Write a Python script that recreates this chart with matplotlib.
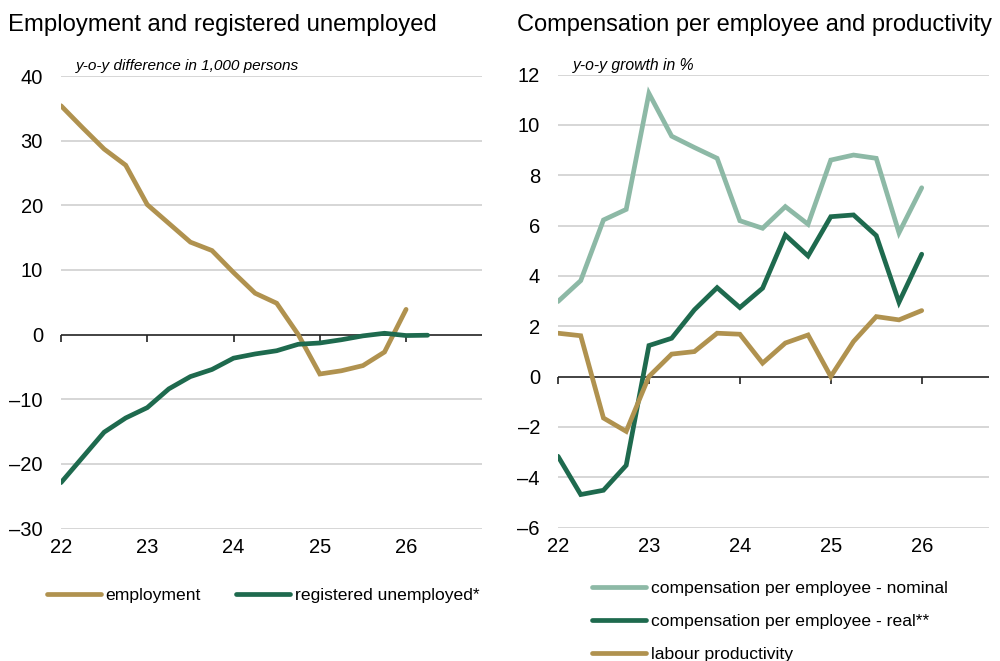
import matplotlib
matplotlib.use("Agg")
import matplotlib.pyplot as plt
import numpy as np

# ---------------- data ----------------
quarters_emp = [22.0, 22.25, 22.5, 22.75, 23.0, 23.25, 23.5, 23.75, 24.0, 24.25,
                24.5, 24.75, 25.0, 25.25, 25.5, 25.75, 26.0]
employment = [35.4, 32.0, 28.7, 26.2, 20.1, 17.2, 14.3, 13.0, 9.6, 6.4,
              4.85, 0.0, -6.1, -5.6, -4.8, -2.7, 3.9]
quarters_unemp = quarters_emp + [26.25]
registered_unemployed = [-22.9, -19.0, -15.1, -12.9, -11.3, -8.4, -6.5, -5.4, -3.65, -3.0,
                         -2.5, -1.5, -1.3, -0.8, -0.2, 0.2, -0.15, -0.1]

quarters_comp = quarters_emp
comp_nominal = [2.98, 3.81, 6.22, 6.64, 11.25, 9.55, 9.1, 8.67, 6.19, 5.89,
                6.75, 6.05, 8.6, 8.8, 8.67, 5.71, 7.5]
comp_real = [-3.17, -4.69, -4.52, -3.53, 1.23, 1.52, 2.65, 3.53, 2.74, 3.51,
             5.62, 4.79, 6.35, 6.42, 5.6, 2.95, 4.86]
productivity = [1.72, 1.62, -1.65, -2.18, 0.0, 0.89, 0.99, 1.72, 1.68, 0.53,
                1.33, 1.65, 0.0, 1.39, 2.38, 2.25, 2.62]

year_ticks = [22, 23, 24, 25, 26]
year_labels = ["22", "23", "24", "25", "26"]
left_yticks = [-30, -20, -10, 0, 10, 20, 30, 40]
right_yticks = [-6, -4, -2, 0, 2, 4, 6, 8, 10, 12]

titles = ["Employment and registered unemployed", "Compensation per employee and productivity"]
subtitles = ["y-o-y difference in 1,000 persons", "y-o-y growth in %"]
legend_left = ["employment", "registered unemployed*"]
legend_right = ["compensation per employee - nominal", "compensation per employee - real**",
                "labour productivity"]

# ---------------- style ----------------
GOLD = "#B0924F"
DARK = "#1E6A4E"
LIGHT = "#8DB9A6"
GRID = "#CFCFCF"
LW = 3.4
FONT = ["Liberation Sans", "DejaVu Sans"]

plt.rcParams['font.family'] = FONT
plt.rcParams['axes.unicode_minus'] = False

W, H = 1000, 661
fig = plt.figure(figsize=(W / 100, H / 100), dpi=100)

def fx(px):
    return px / W

def fy(py):
    return 1 - py / H

ax1 = fig.add_axes([fx(61), fy(528.5), fx(482 - 61), (528.5 - 76) / H])
ax2 = fig.add_axes([fx(558), fy(527.5), fx(989 - 558), (527.5 - 74.5) / H])

def fmt(v):
    return ("–" + str(abs(v))) if v < 0 else str(v)

def style(ax, yticks, ylim, xlim):
    ax.set_xlim(*xlim)
    ax.set_ylim(*ylim)
    for s in ax.spines.values():
        s.set_visible(False)
    ax.set_yticks(yticks)
    ax.set_yticklabels([fmt(v) for v in yticks])
    ax.set_xticks(year_ticks)
    ax.set_xticklabels(year_labels)
    ax.tick_params(axis='y', length=0, pad=13, labelsize=14.5)
    ax.tick_params(axis='x', length=0, pad=7, labelsize=14.5)
    for v in yticks:
        if v == 0:
            continue
        ax.axhline(v, color=GRID, lw=1.2, zorder=0)
    ax.axhline(0, color="#222222", lw=1.2, zorder=1)
    frac = (0 - ylim[0]) / (ylim[1] - ylim[0])
    sec = ax.secondary_xaxis(frac)
    sec.set_xticks(year_ticks)
    sec.set_xticklabels([])
    sec.tick_params(axis='x', direction='out', length=5, width=1.2, color="#222222")
    for s in sec.spines.values():
        s.set_visible(False)

style(ax1, left_yticks, (-30, 40), (22, 26.88))
style(ax2, right_yticks, (-6, 12), (22, 26.74))

ax1.plot(quarters_emp, employment, color=GOLD, lw=LW, solid_capstyle='round',
         solid_joinstyle='miter', label=legend_left[0], zorder=3)
ax1.plot(quarters_unemp, registered_unemployed, color=DARK, lw=LW, solid_capstyle='round',
         solid_joinstyle='miter', label=legend_left[1], zorder=3)

ax2.plot(quarters_comp, comp_nominal, color=LIGHT, lw=LW, solid_capstyle='round',
         solid_joinstyle='miter', label=legend_right[0], zorder=3)
ax2.plot(quarters_comp, comp_real, color=DARK, lw=LW, solid_capstyle='round',
         solid_joinstyle='miter', label=legend_right[1], zorder=3)
ax2.plot(quarters_comp, productivity, color=GOLD, lw=LW, solid_capstyle='round',
         solid_joinstyle='miter', label=legend_right[2], zorder=3)

# titles
fig.text(fx(8), fy(31), titles[0], fontsize=17.2, va='baseline', ha='left')
fig.text(fx(517), fy(31), titles[1], fontsize=17.0, va='baseline', ha='left')
# subtitles
fig.text(fx(76), fy(70), subtitles[0], fontsize=11.1, style='italic', va='baseline', ha='left')
fig.text(fx(573), fy(70), subtitles[1], fontsize=11.3, style='italic', va='baseline', ha='left')

# legends
leg1 = ax1.legend(ncol=2, loc='upper left', bbox_to_anchor=(fx(47), fy(588)),
                  bbox_transform=fig.transFigure, frameon=False, fontsize=12.6,
                  handlelength=3.1, handletextpad=0.25, columnspacing=2.0,
                  borderpad=0, borderaxespad=0)
leg2 = ax2.legend(ncol=1, loc='upper left', bbox_to_anchor=(fx(592), fy(581)),
                  bbox_transform=fig.transFigure, frameon=False, fontsize=12.6,
                  handlelength=3.1, handletextpad=0.25, labelspacing=1.0,
                  borderpad=0, borderaxespad=0)
for leg in (leg1, leg2):
    for l in leg.get_lines():
        l.set_solid_capstyle('round')
        l.set_linewidth(LW)

fig.savefig("out.png", dpi=100)
